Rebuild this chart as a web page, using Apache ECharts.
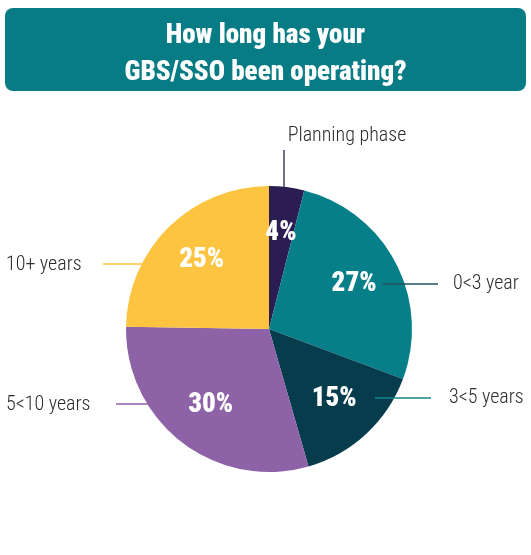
<!DOCTYPE html>
<html>
<head>
<meta charset="utf-8">
<script src="https://cdn.jsdelivr.net/npm/echarts@6/dist/echarts.min.js"></script>
<style>
  html, body { margin: 0; padding: 0; background: #ffffff; }
  #chart { width: 531px; height: 555px; }
</style>
</head>
<body>
<div id="chart"></div>
<script>
// Survey answers: how long the GBS/SSO has been operating
const categories = ['Planning phase', '0<3 year', '3<5 years', '5<10 years', '10+ years'];
const shares = [4, 27, 15, 30, 25];

const sliceColors = ['#2b1d52', '#067f89', '#073c4c', '#8e62a6', '#fdc441'];
const leaderColors = ['#2b1d52', '#22535f', '#16848d', '#8e62a6', '#fdc441'];

const CX = 269, CY = 329, R = 143;
const condensed = '"Roboto Condensed", "Liberation Sans Narrow", "DejaVu Sans Condensed", sans-serif';

// Where each category name sits and how its leader line runs (relative to the pie centre)
const namePlacement = [
  { x: CX + 78, y: CY - 193, align: 'center', line: [[CX + 15, CY - 179], [CX + 15, CY - 160], [CX + 15, CY - 142]] },
  { x: CX + 184, y: CY - 45, align: 'left', line: [[CX + 114, CY - 45], [CX + 140, CY - 45], [CX + 169, CY - 45]] },
  { x: CX + 180, y: CY + 69, align: 'left', line: [[CX + 106, CY + 69], [CX + 134, CY + 69], [CX + 162, CY + 69]] },
  { x: 6, y: CY + 76, align: 'left', line: [[CX - 153, CY + 75], [CX - 136, CY + 75], [CX - 119, CY + 75]] },
  { x: 6, y: CY - 64, align: 'left', line: [[CX - 166, CY - 65], [CX - 142, CY - 65], [CX - 117, CY - 65]] }
];

const pieBase = { type: 'pie', center: [CX, CY], startAngle: 90, clockwise: true, silent: true };

const chart = echarts.init(document.getElementById('chart'), null, { renderer: 'canvas' });

chart.setOption({
  animation: false,
  backgroundColor: '#ffffff',
  graphic: [{
    type: 'rect',
    z: 0,
    shape: { x: 5, y: 8, width: 521, height: 83, r: 8 },
    style: { fill: '#077c85' }
  }],
  title: {
    text: 'How long has your\nGBS/SSO been operating?',
    left: 'center',
    top: 13,
    textStyle: {
      color: '#ffffff',
      fontFamily: condensed,
      fontWeight: 900,
      fontSize: 27,
      lineHeight: 37
    }
  },
  series: [
    Object.assign({}, pieBase, {
      // the coloured slices
      radius: [0, R],
      itemStyle: { borderWidth: 0 },
      data: categories.map((name, i) => ({
        name: name,
        value: shares[i],
        itemStyle: { color: sliceColors[i] }
      })),
      label: { show: false },
      labelLine: { show: false }
    }),
    Object.assign({}, pieBase, {
      // percentages, placed a little further out than the default inside position
      radius: [0, 186],
      z: 3,
      itemStyle: { color: 'rgba(0,0,0,0)', borderWidth: 0 },
      data: categories.map((name, i) => ({ name: name, value: shares[i] })),
      label: {
        show: true,
        position: 'inside',
        formatter: '{c}%',
        color: '#ffffff',
        fontFamily: condensed,
        fontWeight: 900,
        fontSize: 27
      },
      labelLine: { show: false }
    }),
    Object.assign({}, pieBase, {
      // category names with leader lines, drawn above the slices
      radius: [0, R],
      z: 4,
      itemStyle: { color: 'rgba(0,0,0,0)', borderWidth: 0 },
      data: categories.map((name, i) => ({
        name: name,
        value: shares[i],
        labelLine: { lineStyle: { color: leaderColors[i], width: 1.3 } }
      })),
      label: {
        show: true,
        position: 'outside',
        formatter: '{b}',
        color: '#2d2d2d',
        fontFamily: condensed,
        fontWeight: 300,
        fontSize: 20,
        overflow: 'none'
      },
      labelLine: { show: true, smooth: false },
      labelLayout: function (params) {
        const p = namePlacement[params.dataIndex];
        return {
          x: p.x,
          y: p.y,
          align: p.align,
          verticalAlign: 'middle',
          labelLinePoints: p.line
        };
      }
    })
  ]
});
</script>
</body>
</html>
